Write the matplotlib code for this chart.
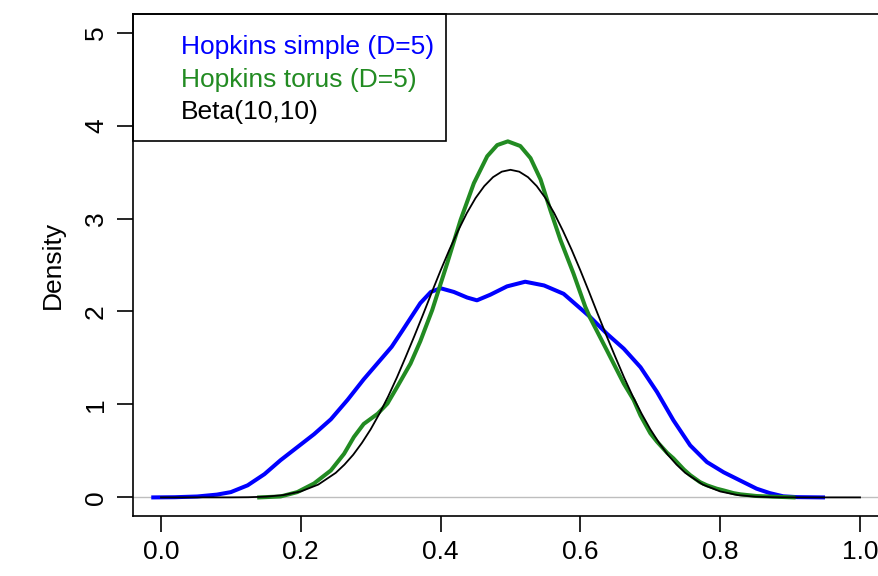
import matplotlib
matplotlib.use("Agg")
import matplotlib.pyplot as plt
from matplotlib.patches import Rectangle

# Hopkins statistic, simple sampling (D=5) -- density
simple_x = [-0.011, 0.020, 0.052, 0.080, 0.100, 0.124, 0.148, 0.171, 0.195, 0.219,
            0.243, 0.267, 0.290, 0.314, 0.330, 0.345, 0.358, 0.371, 0.386, 0.400,
            0.419, 0.438, 0.452, 0.471, 0.495, 0.521, 0.548, 0.576, 0.605, 0.614,
            0.638, 0.662, 0.686, 0.7095, 0.733, 0.757, 0.781, 0.805, 0.829, 0.852,
            0.871, 0.890, 0.910, 0.947]
simple_y = [0.00, 0.002, 0.01, 0.03, 0.057, 0.13, 0.25, 0.40, 0.54, 0.68,
            0.84, 1.05, 1.27, 1.48, 1.62, 1.79, 1.94, 2.09, 2.21, 2.25,
            2.21, 2.15, 2.12, 2.18, 2.27, 2.32, 2.28, 2.19, 2.00, 1.94,
            1.76, 1.60, 1.40, 1.135, 0.83, 0.56, 0.38, 0.27, 0.18, 0.094,
            0.046, 0.012, 0.003, 0.00]

# Hopkins statistic on the torus (D=5)
torus_x = [0.1405, 0.171, 0.195, 0.219, 0.243, 0.262, 0.276, 0.290, 0.310, 0.324,
           0.338, 0.357, 0.371, 0.388, 0.4095, 0.4286, 0.4476, 0.4667, 0.481, 0.4962,
           0.514, 0.5286, 0.543, 0.557, 0.5714, 0.590, 0.607, 0.614, 0.638, 0.662,
           0.676, 0.686, 0.700, 0.7095, 0.724, 0.733, 0.748, 0.757, 0.771, 0.781,
           0.795, 0.805, 0.819, 0.829, 0.852, 0.905]
torus_y = [0.00, 0.01, 0.057, 0.15, 0.29, 0.47, 0.65, 0.79, 0.90, 1.01,
           1.19, 1.44, 1.68, 2.015, 2.52, 2.985, 3.38, 3.67, 3.79, 3.83,
           3.78, 3.65, 3.42, 3.09, 2.77, 2.41, 2.05, 1.93, 1.58, 1.225,
           1.05, 0.88, 0.69, 0.60, 0.48, 0.42, 0.30, 0.24, 0.165, 0.13,
           0.094, 0.075, 0.046, 0.033, 0.015, 0.00]

# Beta(10,10) reference density
beta_x = [0.0, 0.1, 0.125, 0.15, 0.175, 0.2, 0.225, 0.25, 0.2625, 0.275, 0.2875,
          0.3, 0.3125, 0.325, 0.3375, 0.35, 0.3625, 0.375, 0.3875, 0.4, 0.4125,
          0.425, 0.4375, 0.45, 0.4625, 0.475, 0.4875, 0.5, 0.5125, 0.525, 0.5375,
          0.55, 0.5625, 0.575, 0.5875, 0.6, 0.6125, 0.625, 0.6375, 0.65, 0.6625,
          0.675, 0.6875, 0.7, 0.7125, 0.725, 0.7375, 0.75, 0.775, 0.8, 0.825,
          0.85, 0.875, 0.9, 1.0]
beta_y = [0.0, 0.0004, 0.002, 0.008, 0.025, 0.064, 0.138, 0.264, 0.353, 0.459, 0.587,
          0.733, 0.901, 1.086, 1.290, 1.51, 1.736, 1.969, 2.208, 2.441, 2.663,
          2.868, 3.058, 3.22, 3.349, 3.445, 3.504, 3.524, 3.504, 3.445, 3.349,
          3.22, 3.058, 2.868, 2.663, 2.441, 2.208, 1.969, 1.736, 1.51, 1.290,
          1.086, 0.901, 0.733, 0.587, 0.459, 0.353, 0.264, 0.138, 0.064, 0.025,
          0.008, 0.002, 0.0004, 0.0]

labels = ["Hopkins simple (D=5)", "Hopkins torus (D=5)", "Beta(10,10)"]
colors = ["#0000FF", "#228B22", "#000000"]
xticks = [0.0, 0.2, 0.4, 0.6, 0.8, 1.0]
yticks = [0, 1, 2, 3, 4, 5]

plt.rcParams['font.family'] = ['Liberation Sans', 'DejaVu Sans']
plt.rcParams['font.size'] = 19

fig = plt.figure(figsize=(8.79, 5.76), dpi=100)
ax = fig.add_axes([133 / 879, 60 / 576, 755 / 879, 502 / 576])

ax.axhline(0, color="#BEBEBE", lw=1.0, zorder=1)
ax.plot(simple_x, simple_y, color=colors[0], lw=2.9, zorder=3,
        solid_joinstyle='round')
ax.plot(torus_x, torus_y, color=colors[1], lw=2.9, zorder=3,
        solid_joinstyle='round')
ax.plot(beta_x, beta_y, color=colors[2], lw=1.3, zorder=4)

ax.set_xlim(-0.04, 1.04)
ax.set_ylim(-0.2, 5.2)
ax.set_xticks(xticks)
ax.set_xticklabels([f"{v:.1f}" for v in xticks])
ax.set_yticks(yticks)
ax.set_yticklabels([str(v) for v in yticks], rotation=90, va='center')
ax.tick_params(direction='out', length=11.5, width=1.2)
ax.tick_params(axis='x', pad=6)
ax.tick_params(axis='y', pad=6.5)
for s in ax.spines.values():
    s.set_linewidth(1.2)
ax.set_ylabel("Density", labelpad=14)

# legend box drawn by hand, R style
ax.add_patch(Rectangle((0, 0.747), 0.4146, 0.253, transform=ax.transAxes,
                       fill=False, edgecolor='black', lw=1.2, zorder=5,
                       clip_on=False))
for lab, col, ty in zip(labels, colors, [0.934, 0.8685, 0.805]):
    ax.text(0.0636, ty, lab, color=col, transform=ax.transAxes,
            ha='left', va='center', zorder=6)

fig.savefig("out.png", dpi=100)
